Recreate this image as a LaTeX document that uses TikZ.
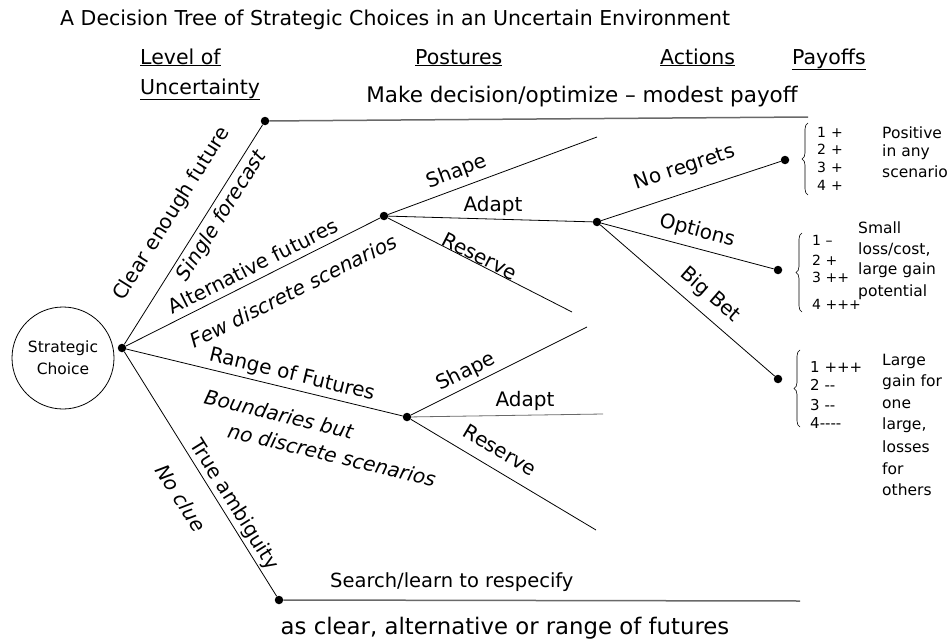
\documentclass[tikz,border=0pt]{standalone}
\usepackage{fontspec}
\setmainfont{DejaVu Sans}
\usetikzlibrary{decorations.pathreplacing}
\definecolor{longgray}{RGB}{105,105,105}

\tikzset{
  dot/.style={circle,fill=black,inner sep=0pt,minimum size=8.5pt},
  branch/.style={line width=0.8pt},
  longline/.style={draw=longgray,line width=1.5pt},
  lbl/.style={font=\fontsize{20}{24}\selectfont,inner sep=0pt},
  ilbl/.style={font=\fontsize{20}{24}\selectfont\itshape,inner sep=0pt},
  hdr/.style={font=\fontsize{20.5}{24}\selectfont,anchor=base west,inner sep=0pt},
  num/.style={font=\fontsize{14}{16}\selectfont,anchor=west,inner sep=0pt},
  pay/.style={font=\fontsize{15.5}{18}\selectfont,anchor=west,inner sep=0pt},
  paybrace/.style={decorate,decoration={brace,amplitude=6pt},line width=0.6pt},
}

\begin{document}
\begin{tikzpicture}[x=1pt,y=-1pt]
\useasboundingbox (0,0) rectangle (950,642);

% title and column heads
\node[hdr] (title) at (60,26) {A Decision Tree of Strategic Choices in an Uncertain Environment};
\node[hdr] (level) at (140,64) {\underline{Level of}};
\node[hdr] (uncert) at (140,94) {\underline{Uncertainty}};
\node[hdr] (postures) at (415,64) {\underline{Postures}};
\node[hdr] (actions) at (660,64) {\underline{Actions}};
\node[hdr] (payoffs) at (792,64) {\underline{Payoffs}};

% root
\node[draw,circle,minimum size=102pt,inner sep=0pt,line width=0.8pt,align=center,
      font=\fontsize{15.5}{22}\selectfont] (choice) at (63,358) {Strategic\\Choice};
\node[dot] (root) at (122,348) {};

% level of uncertainty
\node[dot] (clear) at (265,121) {};
\node[dot] (alt) at (384,216) {};
\node[dot] (range) at (407,417) {};
\node[dot] (ambig) at (279,600) {};

\draw[branch] (root) -- (clear);
\draw[branch] (root) -- (alt);
\draw[branch] (root) -- (range);
\draw[branch] (root) -- (ambig);

\node[lbl,rotate=57.8] (clearlbl) at (172,214) {Clear enough future};
\node[ilbl,rotate=57.8] (singlelbl) at (222,216) {Single forecast};
\node[lbl,rotate=26.7] (altlbl) at (253,266) {Alternative futures};
\node[ilbl,rotate=26.7] (fewlbl) at (293,291) {Few discrete scenarios};
\node[lbl,rotate=-13.6] (rangelbl) at (292,375) {Range of Futures};
\node[ilbl,rotate=-13.6] (boundlbl) at (279,414) {Boundaries but};
\node[ilbl,rotate=-13.6] (nodisclbl) at (332,455) {no discrete scenarios};
\node[lbl,rotate=-58.1] (truelbl) at (234,505) {True ambiguity};
\node[ilbl,rotate=-58.1] (nocluelbl) at (181,498) {No clue};

% clear enough future / true ambiguity
\coordinate (topend) at (808,117);
\coordinate (botend) at (800,601);
\draw[longline] (clear) -- (topend);
\draw[longline] (ambig) -- (botend);
\node[font=\fontsize{21.5}{24}\selectfont,inner sep=0pt,anchor=base] (makelbl) at (582,102) {Make decision/optimize – modest payoff};
\node[font=\fontsize{19.5}{24}\selectfont,inner sep=0pt,anchor=base west] (searchlbl) at (330,587) {Search/learn to respecify};
\node[font=\fontsize{22.8}{24}\selectfont,inner sep=0pt,anchor=base] (aslbl) at (505,634) {as clear, alternative or range of futures};

% postures, alternative futures
\coordinate (shapeA) at (597,137);
\coordinate (reserveA) at (572,312);
\node[dot] (adapt) at (597,222) {};
\draw[branch] (alt) -- (shapeA);
\draw[branch] (alt) -- (adapt);
\draw[branch] (alt) -- (reserveA);
\node[lbl,rotate=20.4] (shapeAlbl) at (457,172) {Shape};
\node[lbl] (adaptAlbl) at (493,206) {Adapt};
\node[lbl,rotate=-27] (reserveAlbl) at (480,256) {Reserve};

% postures, range of futures
\coordinate (shapeG) at (587,327);
\coordinate (adaptG) at (603,414);
\coordinate (reserveG) at (596,530);
\draw[branch] (range) -- (shapeG);
\draw[branch,draw=longgray] (range) -- (adaptG);
\draw[branch] (range) -- (reserveG);
\node[lbl,rotate=26.6] (shapeGlbl) at (466,372) {Shape};
\node[lbl] (adaptGlbl) at (525,401) {Adapt};
\node[lbl,rotate=-30.9] (reserveGlbl) at (500,450) {Reserve};

% actions
\node[dot] (noreg) at (785,160) {};
\node[dot] (options) at (778,270) {};
\node[dot] (bigbet) at (778,379) {};
\draw[branch] (adapt) -- (noreg);
\draw[branch] (adapt) -- (options);
\draw[branch] (adapt) -- (bigbet);
\node[lbl,rotate=18.3] (noreglbl) at (685,168) {No regrets};
\node[lbl,rotate=-14.9] (optionslbl) at (697,231) {Options};
\node[lbl,rotate=-40.9] (bigbetlbl) at (710,295) {Big Bet};

% payoffs
\draw[paybrace] (808,195) -- (808,123);
\draw[paybrace] (802,312) -- (802,233);
\draw[paybrace] (800,427) -- (800,350);

\foreach \t [count=\i] in {1\hspace{5pt}+,2\hspace{5pt}+,3\hspace{5pt}+,4\hspace{5pt}+}
  \node[num] (pa\i) at (817,114.3+17.7*\i) {\t};
\foreach \t/\y [count=\i] in {1 –/240,2 +/260,3 ++/277,4 +++/304}
  \node[num] (pb\i) at (812,\y) {\t};
\foreach \t/\y [count=\i] in {1 +++/367,2 -{}-/385,3 -{}-/405,4-{}-{}-{}-/423}
  \node[num,font=\fontsize{15}{16}\selectfont] (pc\i) at (810,\y) {\t};

\foreach \t [count=\i] in {Positive,in any,scenario}
  \node[pay] (ta\i) at (882,113.5+19.5*\i) {\t};
\foreach \t [count=\i] in {Small,{loss/cost,},large gain,potential}
  \node[pay] (tb\i) at (858,206.7+21.3*\i) {\t};
\foreach \t [count=\i] in {Large,gain for,one,{large,},losses,for,others}
  \node[pay] (tc\i) at (882,339.5+21.5*\i) {\t};

\end{tikzpicture}
\end{document}
